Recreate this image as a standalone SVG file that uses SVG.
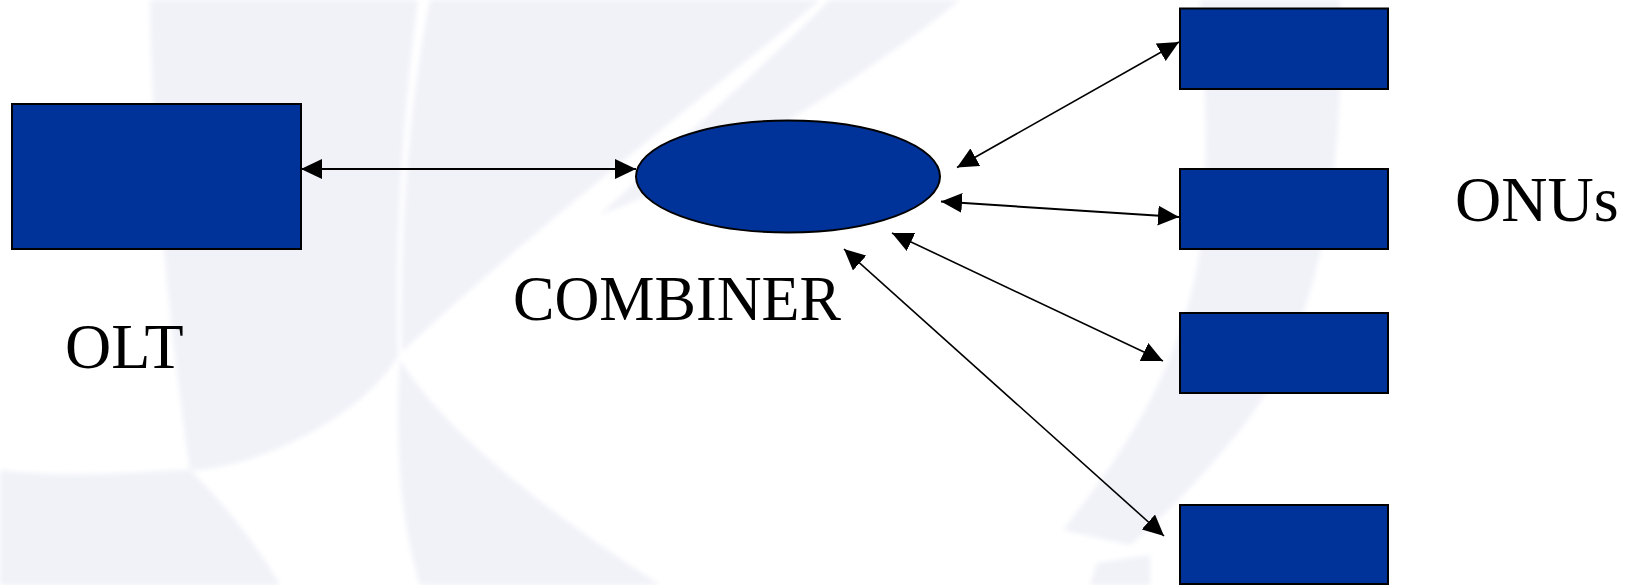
<svg xmlns="http://www.w3.org/2000/svg" width="1636" height="585" viewBox="0 0 1636 585">
  <defs>
    <style>
      .box { fill: #003399; stroke: #000; stroke-width: 2; }
      .link { stroke: #000; stroke-width: 1.6; fill: none; marker-start: url(#tip); marker-end: url(#tip); }
      .label { font-family: "Liberation Serif", "Times New Roman", serif; font-size: 64px; fill: #000; }
      .mark { fill: #f0f2f8; }
    </style>
    <filter id="soft" x="-5%" y="-5%" width="110%" height="110%">
      <feGaussianBlur stdDeviation="2.5"/>
    </filter>
    <marker id="tip" viewBox="0 0 21 20" refX="21" refY="10" markerWidth="21" markerHeight="20" markerUnits="userSpaceOnUse" orient="auto-start-reverse">
      <path d="M0,0 L21,10 L0,20 Z" fill="#000"/>
    </marker>
  </defs>

  <rect width="1636" height="585" fill="#fff"/>

  <!-- faint background emblem -->
  <g id="emblem" filter="url(#soft)">
    <path class="mark" d="M150,0 L418,0 C402,120 394,250 398,356 C360,420 250,470 190,470 C170,330 152,160 150,0 Z"/>
    <path class="mark" d="M430,0 L820,0 C700,100 520,240 402,352 C400,230 408,110 430,0 Z"/>
    <path class="mark" d="M830,0 L960,0 C860,80 720,170 600,215 C680,140 760,70 830,0 Z"/>
    <path class="mark" d="M1200,0 L1340,0 C1345,180 1320,330 1240,430 C1200,480 1160,520 1130,545 L1063,530 C1110,470 1180,380 1200,250 C1210,160 1205,80 1200,0 Z"/>
    <path class="mark" d="M0,470 C80,480 150,470 190,470 C230,510 260,550 280,585 L0,585 Z"/>
    <path class="mark" d="M400,360 C450,440 560,520 660,585 L420,585 C400,520 395,440 400,360 Z"/>
    <path class="mark" d="M1097,563 L1150,555 L1150,585 L1090,585 Z"/>
  </g>

  <g id="connectors">
    <line class="link" style="stroke-width:2" x1="301" y1="169" x2="636" y2="169"/>
    <line class="link" x1="957" y1="167.5" x2="1179" y2="42"/>
    <line class="link" style="stroke-width:2" x1="941" y1="201.5" x2="1179" y2="217"/>
    <line class="link" x1="892" y1="233" x2="1163" y2="361"/>
    <line class="link" x1="844" y1="249" x2="1164" y2="536"/>
  </g>

  <g id="olt">
    <rect class="box" x="12" y="104" width="289" height="145"/>
    <text class="label" x="65" y="368">OLT</text>
  </g>

  <g id="combiner">
    <ellipse class="box" cx="788" cy="176.5" rx="152" ry="56"/>
    <text class="label" x="513" y="320" textLength="328" lengthAdjust="spacingAndGlyphs">COMBINER</text>
  </g>

  <g id="onu1">
    <rect class="box" x="1180" y="8.5" width="208" height="80.5"/>
  </g>
  <g id="onu2">
    <rect class="box" x="1180" y="169" width="208" height="80"/>
    <text class="label" x="1455" y="221">ONUs</text>
  </g>
  <g id="onu3">
    <rect class="box" x="1180" y="313" width="208" height="80"/>
  </g>
  <g id="onu4">
    <rect class="box" x="1180" y="505" width="208" height="79"/>
  </g>
</svg>
